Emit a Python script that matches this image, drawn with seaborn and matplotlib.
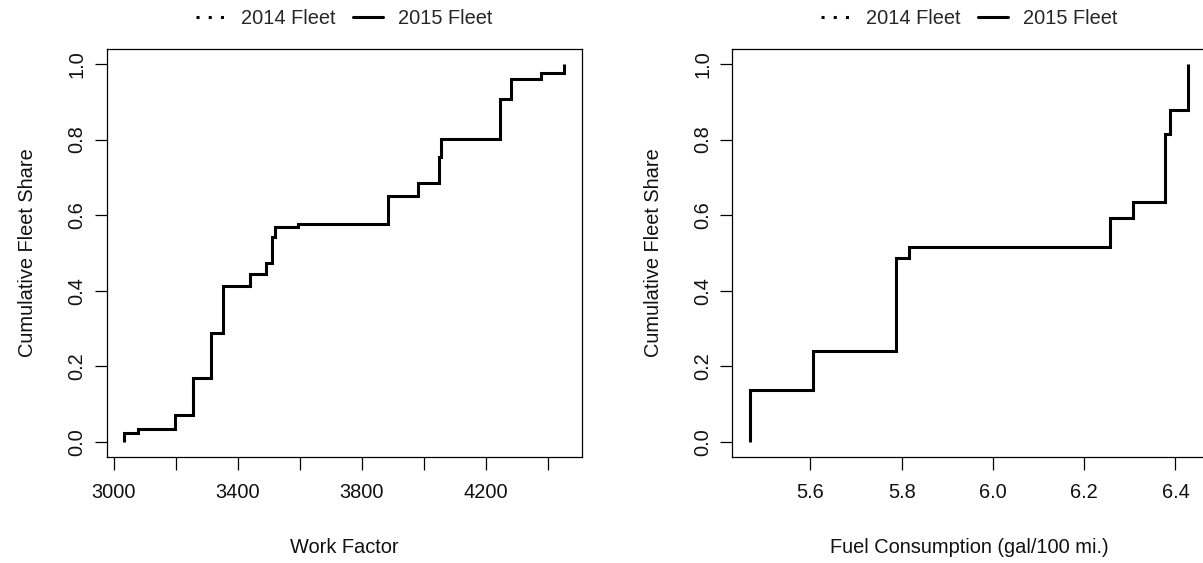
# IMPORT TOOLS
import matplotlib
matplotlib.use('Agg')
import matplotlib.pyplot as plt
from matplotlib.lines import Line2D
import pandas as pd
import seaborn as sns

# DATA
# work factor steps (sorted values, cumulative fleet share)
workfactor = [3033, 3033, 3078, 3196, 3256, 3313, 3351, 3439, 3490, 3511,
              3521, 3595, 3884, 3982, 4050, 4055, 4247, 4280, 4377, 4453]
workfactorshare = [0.000, 0.024, 0.034, 0.072, 0.168, 0.287, 0.412, 0.443, 0.472, 0.543,
                   0.568, 0.577, 0.651, 0.684, 0.755, 0.801, 0.907, 0.960, 0.977, 1.000]
# fuel consumption steps
fuelcons = [5.467, 5.467, 5.606, 5.788, 5.816, 6.257, 6.306, 6.378, 6.388, 6.428]
fuelconsshare = [0.000, 0.137, 0.240, 0.486, 0.515, 0.593, 0.636, 0.815, 0.878, 1.000]

# ticks / labels
wfticks = [3000, 3200, 3400, 3600, 3800, 4000, 4200, 4400]
wfticklabels = ['3000', '', '3400', '', '3800', '', '4200', '']
fcticks = [5.6, 5.8, 6.0, 6.2, 6.4]
fcticklabels = ['5.6', '5.8', '6.0', '6.2', '6.4']
yticks = [0.0, 0.2, 0.4, 0.6, 0.8, 1.0]
yticklabels = ['0.0', '0.2', '0.4', '0.6', '0.8', '1.0']
legendlabels = ['2014 Fleet', '2015 Fleet']

FS = 14.4


def stepplot(ax, x, y, xticks, xticklabels, xlabel, ylabx):
    df = pd.DataFrame({'x': x, 'y': y})
    sns.lineplot(data=df, x='x', y='y', ax=ax, estimator=None, sort=False,
                 drawstyle='steps-post', color='black', lw=2.2,
                 solid_capstyle='butt', solid_joinstyle='miter')
    # R style 4% range extension
    xpad = (max(x) - min(x)) * 0.04
    ax.set_xlim(min(x) - xpad, max(x) + xpad)
    ax.set_ylim(-0.04, 1.04)
    ax.set_xticks(xticks)
    ax.set_xticklabels(xticklabels)
    ax.set_yticks(yticks)
    ax.set_yticklabels(yticklabels, rotation=90, va='center')
    ax.tick_params(axis='both', direction='out', length=9, width=0.9,
                   color='black', labelsize=FS, labelcolor='#111111', left=True, bottom=True)
    ax.tick_params(axis='x', pad=9.5)
    ax.tick_params(axis='y', pad=5.5)
    for sp in ax.spines.values():
        sp.set_visible(True)
        sp.set_color('black')
        sp.set_linewidth(0.9)
    ax.set_xlabel(xlabel, fontsize=FS, color='#111111', va='center')
    ax.set_ylabel('Cumulative Fleet Share', fontsize=FS, color='#111111', va='center')
    ax.xaxis.set_label_coords(0.5, -0.223)
    ax.yaxis.set_label_coords(ylabx, 0.5)
    # legend above axes
    handles = [Line2D([], [], color='black', lw=2.2, linestyle=(0, (1, 3))),
               Line2D([], [], color='black', lw=2.2)]
    ax.legend(handles, legendlabels, loc='center', bbox_to_anchor=(0.5, 1.0735),
              ncol=2, frameon=False, fontsize=FS, handlelength=1.5,
              handletextpad=0.75, columnspacing=0.85, borderaxespad=0)


sns.set_style('white')
plt.rcParams['font.family'] = ['Liberation Sans', 'DejaVu Sans']

fig = plt.figure(figsize=(12.03, 5.63), dpi=100)
ax1 = fig.add_axes([0.0886, 0.1886, 0.395, 0.7245])
ax2 = fig.add_axes([0.6087, 0.1886, 0.3936, 0.7245])

stepplot(ax1, workfactor, workfactorshare, wfticks, wfticklabels, 'Work Factor', -0.166)
stepplot(ax2, fuelcons, fuelconsshare, fcticks, fcticklabels, 'Fuel Consumption (gal/100 mi.)', -0.167)

fig.savefig('out.png', dpi=100)
